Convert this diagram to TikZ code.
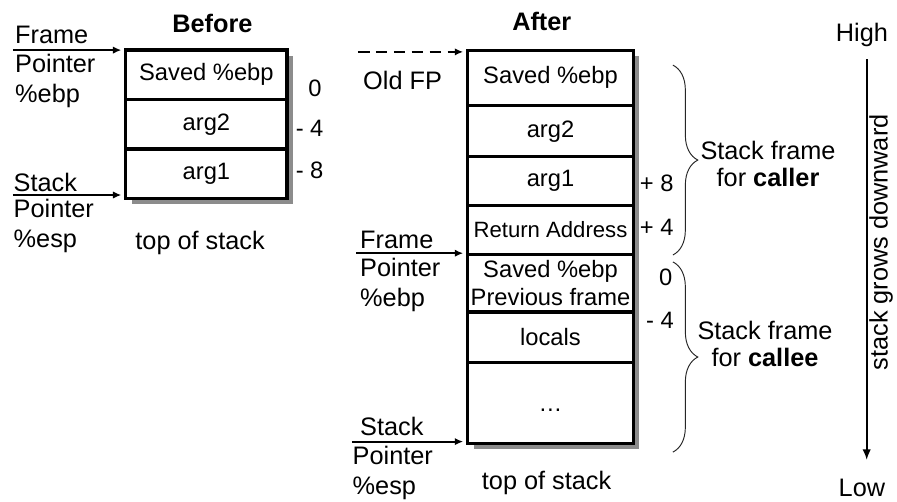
\documentclass[tikz,border=0pt]{standalone}
\usepackage{fontspec}
\setmainfont{Liberation Sans}
\usepackage{tikz}
\usetikzlibrary{backgrounds}
\usetikzlibrary{calc}
\usetikzlibrary{arrows.meta}
\usetikzlibrary{decorations.pathreplacing}
\tikzset{stackCell/.style={draw, line width=3pt, fill=white, minimum width=5.37cm, inner sep=0pt, outer sep=0pt, align=center, font=\fontsize{22.5}{26}\selectfont}}
\tikzset{stackCellA/.style={stackCell, minimum width=5.52cm}}
\tikzset{ptrText/.style={inner sep=0pt, align=left, font=\fontsize{24}{28.5}\selectfont}}
\tikzset{offText/.style={inner sep=0pt, font=\fontsize{22.5}{26}\selectfont}}
\tikzset{ptrArrow/.style={-{Latex[length=8pt,width=7pt]}, line width=1.7pt, shorten >=0.15cm}}
\tikzset{frameBrace/.style={decorate, decoration={brace, amplitude=0.83cm}, line width=0.9pt, black!85}}
\tikzset{stackShadow/.style={fill=black!45}}

\begin{document}
\begin{tikzpicture}

\useasboundingbox (0,0) rectangle (29.9,-16.7);

\node[ptrText] (before) at (7.08,-0.77) {\bfseries Before};
\node[stackCell, minimum height=1.65cm] (bs1) at (6.88,-2.49) {Saved \%ebp};
\node[stackCell, minimum height=1.65cm] (bs2) at (6.88,-4.14) {arg2};
\node[stackCell, minimum height=1.65cm] (bs3) at (6.88,-5.79) {arg1};

\node[offText] (bo1) at (10.5,-2.94) {0};
\node[offText] (bo2) at (10.32,-4.28) {- 4};
\node[offText] (bo3) at (10.32,-5.67) {- 8};

\node[ptrText, anchor=west] (fpB1) at (0.5,-1.17) {Frame};
\node[ptrText, anchor=west] (fpB2) at (0.5,-2.7) {Pointer\\\%ebp};
\node[ptrText, anchor=west] (spB1) at (0.45,-6.07) {Stack};
\node[ptrText, anchor=west] (spB2) at (0.45,-7.53) {Pointer\\\%esp};
\node[ptrText] (topB) at (6.67,-8.1) {top of stack};

\coordinate (fpB) at (0.43,-1.67);
\coordinate (spB) at (0.43,-6.5);
\draw[ptrArrow] (fpB) -- (fpB -| bs1.west);
\draw[ptrArrow] (spB) -- (spB -| bs3.west);

\node[ptrText] (after) at (18.06,-0.73) {\bfseries After};
\node[stackCellA, minimum height=1.85cm] (as1) at (18.35,-2.595) {Saved \%ebp};
\node[stackCellA, minimum height=1.71cm] (as2) at (18.35,-4.375) {arg2};
\node[stackCellA, minimum height=1.62cm] (as3) at (18.35,-6.04) {arg1};
\node[stackCellA, minimum height=1.62cm, font=\fontsize{21}{25}\selectfont] (as4) at (18.35,-7.66) {Return Address};
\node[stackCellA, minimum height=1.93cm] (as5) at (18.35,-9.435) {Saved \%ebp\\Previous frame};
\node[stackCellA, minimum height=1.67cm] (as6) at (18.35,-11.235) {locals};
\node[stackCellA, minimum height=2.7cm] (as7) at (18.35,-13.42) {\rule[-4pt]{0pt}{25pt}\textellipsis};

\node[offText] (ao1) at (21.89,-6.1) {+ 8};
\node[offText] (ao2) at (21.89,-7.57) {+ 4};
\node[offText] (ao3) at (22.19,-9.23) {0};
\node[offText] (ao4) at (22.0,-10.67) {- 4};

\node[ptrText] (oldFP) at (13.42,-2.67) {Old FP};
\node[ptrText, anchor=west] (fpA1) at (12.0,-8.0) {Frame};
\node[ptrText, anchor=west] (fpA2) at (12.0,-9.5) {Pointer\\\%ebp};
\node[ptrText, anchor=west] (spA1) at (12.0,-14.22) {Stack};
\node[ptrText, anchor=west] (spA2) at (11.75,-15.77) {Pointer\\\%esp};
\node[ptrText] (topA) at (18.22,-16.1) {top of stack};

\coordinate (ofA) at (11.93,-1.73);
\coordinate (fpA) at (11.87,-8.44);
\coordinate (spA) at (11.73,-14.72);
\draw[ptrArrow, dash pattern=on 11pt off 6pt] (ofA) -- (ofA -| as1.west);
\draw[ptrArrow] (fpA) -- (fpA -| as4.west);
\draw[ptrArrow] (spA) -- (spA -| as7.west);

\coordinate (callerTop) at (22.43,-2.17);
\coordinate (callerBot) at (22.43,-8.5);
\coordinate (calleeTop) at (22.43,-8.73);
\coordinate (calleeBot) at (22.43,-15.07);
\draw[frameBrace] (callerTop) -- (callerBot);
\draw[frameBrace] (calleeTop) -- (calleeBot);
\node[ptrText, align=center, font=\fontsize{24}{25.6}\selectfont] (caller) at (25.6,-5.45) {Stack frame\\for \textbf{caller}};
\node[ptrText, align=center, font=\fontsize{24}{25.6}\selectfont] (callee) at (25.5,-11.45) {Stack frame\\for \textbf{callee}};

\node[ptrText] (high) at (28.73,-1.17) {High};
\node[ptrText] (low) at (28.73,-16.27) {Low};
\coordinate (growTop) at (28.89,-1.97);
\coordinate (growBot) at (28.89,-15.33);
\draw[-{Latex[length=10pt,width=8pt]}, line width=1.6pt] (growTop) -- (growBot);
\node[ptrText, rotate=90] (grows) at (29.37,-8.08) {stack grows downward};

\begin{scope}[on background layer]
\fill[white] (0,0) rectangle (29.9,-16.7);
\fill[stackShadow] ($(bs1.north west)+(0.2,-0.2)$) rectangle ($(bs3.south east)+(0.2,-0.2)$);
\fill[stackShadow] ($(as1.north west)+(0.2,-0.2)$) rectangle ($(as7.south east)+(0.2,-0.2)$);
\end{scope}

\end{tikzpicture}
\end{document}
